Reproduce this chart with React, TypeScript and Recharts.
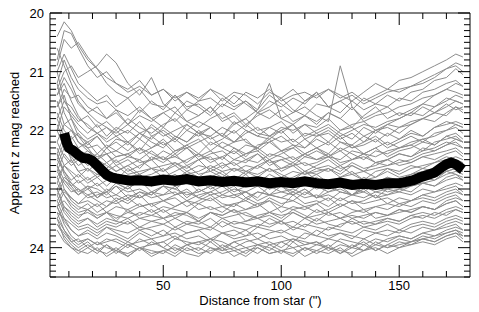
import React from 'react';
import { LineChart, Line, XAxis, YAxis, ReferenceArea } from 'recharts';

// Distances (arcsec) at which each gray run is sampled
const DIST = [5, 8, 11, 14, 18, 22, 26, 30, 35, 40, 45, 50, 55, 60, 65, 70, 75, 80, 85, 90, 95, 100, 105, 110, 115, 120, 125, 130, 135, 140, 145, 150, 155, 160, 165, 170, 174, 177];

// Individual runs (apparent z mag reached)
const RUN_01 = [20.4, 20.15, 20.3, 20.55, 20.8, 20.95, 21.1, 21.2, 21.3, 21.15, 21.4, 21.3, 21.45, 21.35, 21.5, 21.3, 21.4, 21.55, 21.35, 21.45, 21.3, 21.5, 21.4, 21.35, 21.45, 21.3, 21.4, 21.5, 21.35, 21.2, 21.3, 21.15, 21.1, 21.0, 20.9, 20.8, 20.7, 20.75];
const RUN_02 = [20.9, 20.45, 20.6, 20.5, 20.75, 20.95, 21.2, 21.35, 21.45, 21.3, 21.55, 21.6, 21.4, 21.65, 21.5, 21.45, 21.6, 21.4, 21.55, 21.7, 21.5, 21.6, 21.45, 21.55, 21.35, 21.6, 21.5, 21.4, 21.55, 21.45, 21.35, 21.3, 21.25, 21.15, 21.05, 20.95, 20.9, 21.0];
const RUN_03 = [21.3, 21.0, 20.9, 21.1, 21.0, 20.9, 20.7, 20.85, 21.2, 21.4, 21.1, 21.55, 21.7, 21.5, 21.6, 21.75, 21.55, 21.65, 21.5, 21.7, 21.6, 21.45, 21.65, 21.75, 21.55, 21.6, 21.7, 21.5, 21.65, 21.55, 21.6, 21.45, 21.5, 21.35, 21.3, 21.2, 21.15, 21.25];
const RUN_04 = [21.2, 20.8, 21.1, 21.3, 21.45, 21.55, 21.5, 21.65, 21.75, 21.6, 21.8, 21.7, 21.85, 21.65, 21.75, 21.6, 21.8, 21.7, 21.9, 21.75, 21.65, 21.8, 21.7, 21.6, 21.75, 21.85, 20.9, 21.6, 21.8, 21.7, 21.6, 21.75, 21.65, 21.55, 21.6, 21.45, 21.5, 21.55];
const RUN_05 = [21.6, 21.3, 21.45, 21.4, 21.6, 21.7, 21.8, 21.65, 21.9, 21.75, 21.85, 21.7, 21.6, 21.85, 21.95, 21.8, 21.7, 21.9, 21.8, 21.65, 21.2, 21.8, 21.9, 21.75, 21.85, 21.7, 21.8, 21.95, 21.75, 21.6, 21.8, 21.7, 21.75, 21.6, 21.7, 21.55, 21.65, 21.6];
const RUN_06 = [21.0, 21.5, 21.7, 21.85, 21.75, 21.95, 21.85, 22.0, 21.8, 21.95, 22.05, 21.9, 21.8, 22.0, 21.85, 21.95, 22.1, 21.9, 21.8, 22.0, 21.95, 21.85, 22.05, 21.9, 21.95, 21.8, 22.0, 21.9, 21.85, 22.0, 21.9, 21.8, 21.7, 21.75, 21.6, 21.5, 21.4, 21.45];
const RUN_07 = [21.8, 21.5, 21.6, 21.8, 21.9, 22.05, 21.95, 22.1, 22.0, 22.15, 21.9, 22.05, 22.2, 22.0, 22.1, 21.95, 22.1, 22.2, 22.05, 21.95, 22.1, 22.0, 21.9, 22.15, 22.05, 22.2, 22.0, 21.95, 22.1, 22.0, 21.95, 22.05, 21.9, 21.8, 21.85, 21.7, 21.6, 21.65];
const RUN_08 = [22.2, 21.9, 21.8, 22.0, 22.15, 22.05, 22.2, 22.1, 22.25, 22.05, 22.2, 22.3, 22.1, 22.2, 22.05, 22.25, 22.15, 22.0, 22.2, 22.3, 22.1, 22.2, 22.15, 22.3, 22.1, 22.05, 22.2, 22.25, 22.1, 22.2, 22.05, 22.15, 22.0, 22.1, 21.95, 21.9, 21.85, 21.9];
const RUN_09 = [21.5, 21.9, 22.0, 22.1, 22.2, 22.1, 22.3, 22.2, 22.35, 22.15, 22.3, 22.2, 22.4, 22.25, 22.15, 22.35, 22.2, 22.3, 22.45, 22.25, 22.2, 22.35, 22.3, 22.15, 22.3, 22.4, 22.2, 22.3, 22.25, 22.15, 22.3, 22.2, 22.1, 22.2, 22.05, 22.0, 21.95, 22.05];
const RUN_10 = [22.4, 22.1, 22.0, 22.2, 22.3, 22.25, 22.4, 22.35, 22.45, 22.3, 22.4, 22.5, 22.35, 22.3, 22.45, 22.35, 22.5, 22.3, 22.4, 22.35, 22.5, 22.4, 22.3, 22.45, 22.35, 22.45, 22.3, 22.4, 22.5, 22.35, 22.4, 22.3, 22.25, 22.35, 22.2, 22.15, 22.1, 22.2];
const RUN_11 = [22.0, 22.3, 22.4, 22.35, 22.5, 22.4, 22.55, 22.45, 22.4, 22.55, 22.5, 22.45, 22.6, 22.5, 22.4, 22.55, 22.45, 22.6, 22.5, 22.4, 22.55, 22.5, 22.6, 22.45, 22.5, 22.4, 22.55, 22.5, 22.45, 22.55, 22.5, 22.4, 22.45, 22.3, 22.35, 22.25, 22.2, 22.3];
const RUN_12 = [22.6, 22.3, 22.45, 22.6, 22.5, 22.65, 22.55, 22.7, 22.6, 22.5, 22.65, 22.6, 22.55, 22.7, 22.6, 22.65, 22.55, 22.7, 22.6, 22.65, 22.5, 22.7, 22.6, 22.55, 22.65, 22.6, 22.7, 22.55, 22.65, 22.6, 22.5, 22.6, 22.55, 22.45, 22.5, 22.4, 22.35, 22.45];
const RUN_13 = [21.9, 22.2, 22.5, 22.7, 22.65, 22.75, 22.7, 22.6, 22.75, 22.7, 22.65, 22.8, 22.7, 22.6, 22.75, 22.7, 22.8, 22.65, 22.7, 22.75, 22.65, 22.8, 22.7, 22.75, 22.65, 22.7, 22.6, 22.75, 22.7, 22.8, 22.65, 22.7, 22.6, 22.65, 22.55, 22.5, 22.45, 22.5];
const RUN_14 = [22.8, 22.6, 22.5, 22.7, 22.85, 22.75, 22.8, 22.9, 22.8, 22.75, 22.9, 22.8, 22.85, 22.75, 22.9, 22.8, 22.7, 22.85, 22.8, 22.9, 22.75, 22.85, 22.8, 22.7, 22.85, 22.9, 22.8, 22.75, 22.85, 22.8, 22.7, 22.8, 22.75, 22.65, 22.7, 22.6, 22.55, 22.6];
const RUN_15 = [22.3, 22.6, 22.75, 22.9, 22.8, 22.95, 22.85, 22.9, 23.0, 22.85, 22.9, 22.8, 22.95, 22.9, 22.85, 23.0, 22.9, 22.85, 22.95, 22.9, 23.0, 22.85, 22.95, 22.9, 22.8, 22.95, 22.9, 22.85, 22.95, 22.9, 22.8, 22.9, 22.85, 22.75, 22.8, 22.7, 22.65, 22.7];
const RUN_16 = [23.0, 22.8, 22.9, 23.05, 22.95, 23.0, 23.1, 22.95, 23.05, 23.0, 23.1, 22.95, 23.0, 23.1, 23.05, 22.95, 23.1, 23.0, 23.05, 22.95, 23.1, 23.05, 23.0, 23.1, 22.95, 23.05, 23.0, 23.1, 23.0, 22.95, 23.05, 23.0, 22.95, 22.9, 22.95, 22.85, 22.8, 22.85];
const RUN_17 = [22.7, 22.9, 23.05, 23.0, 23.15, 23.1, 23.05, 23.2, 23.1, 23.15, 23.05, 23.2, 23.1, 23.05, 23.15, 23.2, 23.1, 23.15, 23.05, 23.2, 23.1, 23.15, 23.2, 23.05, 23.15, 23.1, 23.2, 23.1, 23.05, 23.15, 23.1, 23.05, 23.1, 23.0, 23.05, 22.95, 22.9, 22.95];
const RUN_18 = [23.2, 23.0, 23.15, 23.25, 23.2, 23.3, 23.2, 23.25, 23.15, 23.3, 23.25, 23.2, 23.3, 23.2, 23.25, 23.15, 23.3, 23.25, 23.2, 23.3, 23.15, 23.25, 23.2, 23.3, 23.25, 23.15, 23.3, 23.2, 23.25, 23.2, 23.15, 23.25, 23.2, 23.1, 23.15, 23.05, 23.0, 23.1];
const RUN_19 = [22.6, 23.0, 23.2, 23.3, 23.35, 23.25, 23.4, 23.3, 23.35, 23.25, 23.4, 23.3, 23.35, 23.4, 23.25, 23.35, 23.3, 23.4, 23.35, 23.25, 23.4, 23.3, 23.35, 23.3, 23.4, 23.35, 23.25, 23.35, 23.4, 23.3, 23.35, 23.25, 23.3, 23.2, 23.25, 23.15, 23.1, 23.2];
const RUN_20 = [23.3, 23.2, 23.35, 23.45, 23.4, 23.5, 23.4, 23.45, 23.5, 23.4, 23.45, 23.5, 23.4, 23.45, 23.55, 23.4, 23.5, 23.45, 23.4, 23.5, 23.45, 23.55, 23.4, 23.5, 23.45, 23.4, 23.5, 23.45, 23.5, 23.4, 23.45, 23.35, 23.4, 23.3, 23.35, 23.25, 23.2, 23.3];
const RUN_21 = [23.0, 23.3, 23.45, 23.55, 23.5, 23.6, 23.5, 23.55, 23.6, 23.5, 23.55, 23.6, 23.5, 23.6, 23.55, 23.65, 23.5, 23.6, 23.55, 23.5, 23.6, 23.55, 23.65, 23.5, 23.6, 23.55, 23.5, 23.6, 23.55, 23.6, 23.5, 23.55, 23.45, 23.5, 23.4, 23.45, 23.35, 23.4];
const RUN_22 = [23.4, 23.5, 23.6, 23.7, 23.65, 23.75, 23.65, 23.7, 23.75, 23.65, 23.7, 23.8, 23.65, 23.75, 23.7, 23.65, 23.75, 23.7, 23.8, 23.65, 23.7, 23.75, 23.65, 23.7, 23.8, 23.65, 23.7, 23.75, 23.65, 23.7, 23.6, 23.7, 23.6, 23.55, 23.6, 23.5, 23.45, 23.5];
const RUN_23 = [23.2, 23.5, 23.7, 23.8, 23.75, 23.85, 23.75, 23.8, 23.9, 23.75, 23.85, 23.8, 23.75, 23.85, 23.8, 23.9, 23.75, 23.85, 23.8, 23.75, 23.85, 23.8, 23.9, 23.75, 23.8, 23.85, 23.75, 23.8, 23.85, 23.75, 23.8, 23.7, 23.75, 23.65, 23.7, 23.6, 23.55, 23.6];
const RUN_24 = [23.5, 23.7, 23.85, 23.95, 23.85, 23.95, 23.9, 23.85, 23.95, 23.9, 23.85, 24.0, 23.85, 23.9, 23.95, 23.85, 23.9, 24.0, 23.9, 23.85, 23.95, 23.9, 23.85, 23.95, 23.9, 24.0, 23.85, 23.9, 23.95, 23.85, 23.9, 23.8, 23.85, 23.75, 23.8, 23.7, 23.65, 23.7];
const RUN_25 = [23.6, 23.8, 23.95, 24.05, 23.95, 24.05, 24.1, 24.0, 24.15, 24.0, 24.05, 24.1, 23.95, 24.05, 24.0, 24.1, 23.95, 24.05, 24.0, 24.1, 23.95, 24.05, 24.1, 24.0, 24.05, 23.95, 24.1, 24.0, 24.05, 23.95, 24.0, 23.9, 23.95, 23.85, 23.9, 23.8, 23.75, 23.85];
const RUN_26 = [23.4, 23.7, 23.9, 23.85, 24.0, 23.9, 24.0, 24.05, 23.9, 24.0, 23.95, 23.9, 24.05, 23.95, 23.9, 24.0, 24.05, 23.9, 24.0, 23.95, 24.05, 23.9, 24.0, 23.95, 23.9, 24.05, 23.95, 24.0, 23.9, 24.05, 23.95, 23.85, 23.9, 23.8, 23.85, 23.75, 23.7, 23.75];
const RUN_27 = [21.2, 21.7, 21.95, 22.2, 22.35, 22.45, 22.4, 22.55, 22.45, 22.5, 22.35, 22.5, 22.45, 22.55, 22.4, 22.5, 22.45, 22.35, 22.5, 22.55, 22.4, 22.45, 22.55, 22.4, 22.5, 22.45, 22.35, 22.5, 22.4, 22.45, 22.35, 22.3, 22.25, 22.15, 22.1, 22.0, 21.9, 21.95];
const RUN_28 = [22.4, 22.7, 22.9, 23.0, 23.1, 23.05, 23.15, 23.1, 23.2, 23.05, 23.15, 23.1, 23.05, 23.2, 23.1, 23.05, 23.15, 23.1, 23.2, 23.05, 23.1, 23.15, 23.05, 23.15, 23.1, 23.2, 23.05, 23.1, 23.15, 23.05, 23.1, 23.0, 23.05, 22.9, 22.85, 22.75, 22.7, 22.75];
const RUN_29 = [21.6, 21.4, 21.8, 22.1, 22.3, 22.5, 22.6, 22.7, 22.6, 22.75, 22.65, 22.7, 22.6, 22.75, 22.7, 22.6, 22.7, 22.65, 22.75, 22.6, 22.7, 22.65, 22.6, 22.75, 22.7, 22.65, 22.75, 22.6, 22.7, 22.65, 22.6, 22.55, 22.5, 22.4, 22.35, 22.25, 22.15, 22.2];
const RUN_30 = [22.9, 23.1, 23.3, 23.4, 23.35, 23.45, 23.4, 23.5, 23.4, 23.45, 23.35, 23.5, 23.45, 23.4, 23.5, 23.4, 23.45, 23.35, 23.45, 23.5, 23.4, 23.45, 23.4, 23.5, 23.35, 23.45, 23.4, 23.5, 23.45, 23.4, 23.45, 23.35, 23.4, 23.3, 23.35, 23.2, 23.15, 23.2];
const RUN_31 = [20.6, 20.9, 21.2, 21.5, 21.7, 21.85, 21.95, 22.05, 21.9, 22.05, 21.95, 22.1, 22.0, 21.9, 22.05, 22.1, 21.95, 22.05, 21.9, 22.05, 22.1, 21.95, 22.0, 21.9, 22.05, 21.95, 22.1, 22.0, 21.9, 21.95, 21.85, 21.8, 21.7, 21.55, 21.4, 21.3, 21.2, 21.25];
const RUN_32 = [23.1, 23.4, 23.55, 23.65, 23.6, 23.7, 23.6, 23.65, 23.55, 23.7, 23.65, 23.6, 23.7, 23.6, 23.65, 23.7, 23.55, 23.65, 23.7, 23.6, 23.65, 23.55, 23.7, 23.6, 23.65, 23.7, 23.6, 23.55, 23.65, 23.6, 23.55, 23.6, 23.5, 23.45, 23.5, 23.4, 23.35, 23.4];
const RUN_33 = [21.0, 20.7, 20.95, 21.2, 21.35, 21.5, 21.4, 21.6, 21.45, 21.7, 21.5, 21.65, 21.4, 21.6, 21.55, 21.7, 21.45, 21.6, 21.5, 21.65, 21.4, 21.55, 21.7, 21.5, 21.35, 21.6, 21.5, 21.65, 21.45, 21.55, 21.4, 21.5, 21.35, 21.3, 21.15, 21.1, 20.95, 21.05];
const RUN_34 = [21.4, 21.1, 21.3, 21.55, 21.7, 21.6, 21.8, 21.7, 21.9, 21.65, 21.8, 21.95, 21.7, 21.85, 21.75, 21.6, 21.85, 21.75, 21.95, 21.7, 21.8, 21.65, 21.85, 21.75, 21.9, 21.7, 21.8, 21.6, 21.85, 21.75, 21.7, 21.6, 21.55, 21.45, 21.4, 21.3, 21.35, 21.4];
const RUN_35 = [22.0, 21.6, 21.75, 21.9, 22.05, 21.9, 22.1, 21.95, 22.05, 21.85, 22.1, 22.0, 22.15, 21.9, 22.05, 21.95, 22.1, 21.85, 22.0, 22.1, 21.95, 22.05, 21.9, 22.1, 22.0, 21.9, 22.05, 22.15, 21.95, 22.05, 21.9, 21.95, 21.85, 21.8, 21.7, 21.75, 21.6, 21.7];
const RUN_36 = [21.7, 22.0, 22.15, 22.05, 22.25, 22.1, 22.3, 22.15, 22.2, 22.35, 22.1, 22.25, 22.15, 22.3, 22.2, 22.1, 22.3, 22.2, 22.15, 22.35, 22.2, 22.1, 22.25, 22.3, 22.15, 22.25, 22.1, 22.3, 22.2, 22.1, 22.25, 22.15, 22.05, 22.1, 21.95, 21.85, 21.9, 21.95];
const RUN_37 = [22.5, 22.2, 22.1, 22.3, 22.2, 22.4, 22.25, 22.35, 22.2, 22.4, 22.3, 22.15, 22.35, 22.25, 22.4, 22.2, 22.3, 22.4, 22.25, 22.3, 22.15, 22.35, 22.25, 22.4, 22.3, 22.2, 22.35, 22.25, 22.4, 22.3, 22.2, 22.3, 22.2, 22.15, 22.25, 22.1, 22.05, 22.15];
const RUN_38 = [21.8, 22.1, 22.3, 22.45, 22.35, 22.5, 22.3, 22.45, 22.4, 22.3, 22.5, 22.35, 22.45, 22.3, 22.5, 22.4, 22.35, 22.5, 22.4, 22.3, 22.45, 22.35, 22.5, 22.4, 22.3, 22.45, 22.5, 22.35, 22.4, 22.3, 22.45, 22.35, 22.3, 22.2, 22.25, 22.1, 22.15, 22.2];
const RUN_39 = [22.7, 22.4, 22.55, 22.45, 22.6, 22.5, 22.4, 22.6, 22.5, 22.65, 22.45, 22.55, 22.4, 22.6, 22.5, 22.45, 22.65, 22.5, 22.55, 22.4, 22.6, 22.5, 22.45, 22.6, 22.55, 22.45, 22.6, 22.5, 22.4, 22.55, 22.5, 22.4, 22.45, 22.35, 22.3, 22.2, 22.25, 22.3];
const RUN_40 = [22.2, 22.45, 22.6, 22.5, 22.7, 22.55, 22.65, 22.5, 22.7, 22.6, 22.5, 22.7, 22.55, 22.65, 22.5, 22.7, 22.6, 22.55, 22.7, 22.6, 22.5, 22.65, 22.55, 22.7, 22.6, 22.5, 22.65, 22.6, 22.7, 22.55, 22.6, 22.5, 22.55, 22.45, 22.4, 22.35, 22.3, 22.4];
const RUN_41 = [22.9, 22.6, 22.7, 22.8, 22.65, 22.8, 22.7, 22.85, 22.65, 22.8, 22.75, 22.65, 22.85, 22.7, 22.8, 22.65, 22.75, 22.85, 22.7, 22.8, 22.65, 22.75, 22.85, 22.7, 22.75, 22.65, 22.8, 22.7, 22.85, 22.7, 22.65, 22.75, 22.65, 22.6, 22.55, 22.45, 22.5, 22.55];
const RUN_42 = [22.5, 22.7, 22.85, 22.75, 22.9, 22.8, 22.95, 22.8, 22.9, 22.75, 22.95, 22.85, 22.75, 22.9, 22.85, 22.95, 22.8, 22.9, 22.75, 22.95, 22.85, 22.8, 22.95, 22.85, 22.75, 22.9, 22.85, 22.95, 22.8, 22.9, 22.8, 22.85, 22.75, 22.7, 22.65, 22.6, 22.55, 22.6];
const RUN_43 = [23.1, 22.85, 22.95, 22.85, 23.0, 22.9, 23.05, 22.9, 23.0, 22.85, 23.05, 22.95, 23.0, 22.85, 23.05, 22.95, 22.9, 23.05, 22.95, 22.85, 23.0, 22.95, 23.05, 22.9, 23.0, 22.95, 22.85, 23.0, 23.05, 22.9, 23.0, 22.9, 22.85, 22.8, 22.85, 22.7, 22.75, 22.8];
const RUN_44 = [22.6, 22.85, 23.0, 23.1, 22.95, 23.15, 23.0, 23.1, 22.95, 23.15, 23.05, 23.1, 22.95, 23.15, 23.0, 23.1, 23.05, 22.95, 23.15, 23.05, 23.1, 22.95, 23.1, 23.0, 23.15, 23.05, 22.95, 23.1, 23.0, 23.15, 23.0, 23.05, 22.95, 22.9, 22.95, 22.8, 22.75, 22.85];
const RUN_45 = [23.3, 23.05, 23.15, 23.25, 23.1, 23.2, 23.3, 23.15, 23.25, 23.1, 23.3, 23.2, 23.15, 23.3, 23.2, 23.1, 23.25, 23.3, 23.15, 23.25, 23.2, 23.3, 23.1, 23.25, 23.2, 23.3, 23.15, 23.25, 23.2, 23.1, 23.25, 23.15, 23.2, 23.1, 23.05, 23.0, 22.95, 23.05];
const RUN_46 = [22.8, 23.1, 23.25, 23.35, 23.25, 23.4, 23.3, 23.2, 23.4, 23.3, 23.25, 23.4, 23.3, 23.2, 23.35, 23.3, 23.4, 23.25, 23.35, 23.3, 23.2, 23.4, 23.3, 23.35, 23.25, 23.4, 23.3, 23.2, 23.35, 23.3, 23.25, 23.3, 23.2, 23.15, 23.2, 23.1, 23.05, 23.1];
const RUN_47 = [23.5, 23.3, 23.4, 23.5, 23.35, 23.5, 23.4, 23.55, 23.35, 23.5, 23.45, 23.35, 23.5, 23.4, 23.55, 23.4, 23.45, 23.35, 23.55, 23.45, 23.4, 23.5, 23.35, 23.45, 23.55, 23.4, 23.5, 23.4, 23.35, 23.5, 23.45, 23.4, 23.35, 23.3, 23.35, 23.25, 23.2, 23.3];
const RUN_48 = [23.0, 23.35, 23.5, 23.6, 23.5, 23.65, 23.55, 23.6, 23.5, 23.65, 23.55, 23.5, 23.65, 23.55, 23.6, 23.5, 23.65, 23.55, 23.6, 23.65, 23.5, 23.6, 23.55, 23.65, 23.5, 23.6, 23.65, 23.5, 23.6, 23.55, 23.5, 23.55, 23.45, 23.4, 23.45, 23.35, 23.3, 23.35];
const RUN_49 = [23.3, 23.55, 23.7, 23.8, 23.7, 23.8, 23.65, 23.75, 23.85, 23.7, 23.8, 23.7, 23.85, 23.75, 23.7, 23.85, 23.75, 23.8, 23.7, 23.85, 23.75, 23.7, 23.8, 23.85, 23.7, 23.8, 23.75, 23.85, 23.7, 23.75, 23.7, 23.75, 23.65, 23.6, 23.65, 23.55, 23.5, 23.55];
const RUN_50 = [23.6, 23.75, 23.9, 24.0, 23.9, 24.05, 23.95, 24.1, 23.95, 24.05, 23.9, 24.0, 24.1, 23.95, 24.05, 23.9, 24.05, 24.0, 24.1, 23.95, 24.0, 24.1, 23.9, 24.05, 23.95, 24.0, 24.1, 23.95, 24.05, 23.9, 24.0, 23.95, 23.9, 23.85, 23.8, 23.75, 23.7, 23.8];
const RUN_51 = [23.3, 23.6, 23.8, 23.9, 23.85, 23.95, 23.85, 23.9, 24.0, 23.85, 23.95, 23.9, 23.8, 23.95, 23.9, 23.85, 24.0, 23.9, 23.85, 23.95, 23.9, 24.0, 23.85, 23.9, 23.95, 23.85, 23.9, 24.0, 23.85, 23.95, 23.85, 23.8, 23.85, 23.75, 23.7, 23.65, 23.6, 23.7];
const RUN_52 = [23.7, 23.9, 24.0, 24.1, 24.0, 24.1, 23.95, 24.05, 24.15, 24.0, 24.1, 24.05, 24.15, 24.0, 24.1, 24.05, 24.0, 24.15, 24.05, 24.0, 24.1, 24.05, 24.15, 24.0, 24.1, 24.0, 24.05, 24.1, 23.95, 24.05, 23.95, 24.0, 23.9, 23.85, 23.9, 23.8, 23.75, 23.8];
const RUN_53 = [21.4, 21.2, 21.5, 21.75, 21.95, 22.05, 22.15, 22.0, 22.2, 22.05, 22.15, 21.95, 22.1, 22.2, 22.0, 22.15, 22.05, 22.2, 22.0, 22.1, 22.15, 22.0, 22.2, 22.05, 22.1, 22.0, 22.15, 22.05, 22.2, 22.0, 22.1, 21.95, 21.9, 21.8, 21.7, 21.6, 21.5, 21.55];
const RUN_54 = [22.4, 22.75, 22.95, 23.1, 23.0, 23.15, 23.05, 22.95, 23.15, 23.05, 23.1, 22.95, 23.1, 23.0, 23.15, 23.05, 22.95, 23.1, 23.05, 23.15, 22.95, 23.05, 23.1, 23.0, 23.15, 22.95, 23.05, 23.1, 22.95, 23.05, 23.0, 22.95, 22.9, 22.85, 22.8, 22.7, 22.65, 22.7];
const RUN_55 = [20.8, 20.3, 20.35, 20.6, 20.9, 21.1, 21.0, 21.2, 21.35, 21.25, 21.4, 21.3, 21.5, 21.35, 21.45, 21.3, 21.5, 21.35, 21.4, 21.55, 21.35, 21.45, 21.3, 21.5, 21.4, 21.3, 21.45, 21.35, 21.5, 21.4, 21.3, 21.35, 21.25, 21.2, 21.1, 20.95, 20.85, 20.9];
const RUN_56 = [23.5, 23.85, 24.0, 24.05, 24.1, 24.0, 24.15, 24.05, 24.1, 24.0, 24.15, 24.05, 24.0, 24.1, 24.15, 24.0, 24.1, 24.05, 24.15, 24.0, 24.1, 24.05, 24.0, 24.15, 24.05, 24.1, 24.0, 24.15, 24.05, 24.0, 24.1, 24.0, 23.95, 23.9, 23.95, 23.85, 23.8, 23.9];

const RUNS = [
  RUN_01, RUN_02, RUN_03, RUN_04, RUN_05, RUN_06, RUN_07, RUN_08,
  RUN_09, RUN_10, RUN_11, RUN_12, RUN_13, RUN_14, RUN_15, RUN_16,
  RUN_17, RUN_18, RUN_19, RUN_20, RUN_21, RUN_22, RUN_23, RUN_24,
  RUN_25, RUN_26, RUN_27, RUN_28, RUN_29, RUN_30, RUN_31, RUN_32,
  RUN_33, RUN_34, RUN_35, RUN_36, RUN_37, RUN_38, RUN_39, RUN_40,
  RUN_41, RUN_42, RUN_43, RUN_44, RUN_45, RUN_46, RUN_47, RUN_48,
  RUN_49, RUN_50, RUN_51, RUN_52, RUN_53, RUN_54, RUN_55, RUN_56,
];

// Median curve (thick black)
const MEDIAN_DIST = [8, 9, 10, 12, 14, 16, 18, 20, 22, 24, 26, 28, 30, 33, 36, 40, 45, 50, 55, 60, 65, 70, 75, 80, 85, 90, 95, 100, 105, 110, 115, 120, 125, 130, 135, 140, 145, 150, 153, 156, 159, 162, 165, 168, 170, 172, 174, 176, 177];
const MEDIAN_MAG = [22.05, 22.2, 22.3, 22.35, 22.42, 22.47, 22.48, 22.52, 22.6, 22.68, 22.76, 22.8, 22.82, 22.84, 22.86, 22.85, 22.87, 22.84, 22.86, 22.83, 22.87, 22.85, 22.88, 22.86, 22.89, 22.87, 22.9, 22.88, 22.9, 22.87, 22.9, 22.92, 22.89, 22.93, 22.91, 22.93, 22.9, 22.9, 22.88, 22.85, 22.8, 22.76, 22.72, 22.63, 22.58, 22.55, 22.58, 22.64, 22.67];

const X_TICKS = [10, 20, 30, 40, 50, 60, 70, 80, 90, 100, 110, 120, 130, 140, 150, 160, 170];
const X_LABELS = [50, 100, 150];
const Y_LABELS = [20, 21, 22, 23, 24];
const Y_TICKS = Array.from({ length: 46 }, (_, i) => (200 + i) / 10);

const W = 479;
const H = 312;
const PLOT_LEFT = 50;
const PLOT_RIGHT = 470;
const PLOT_TOP = 13;
const PLOT_BOTTOM = 277;
const FONT = '"Liberation Sans", Arial, Helvetica, sans-serif';

const XTick = (props: any) => {
  const { x, y, payload } = props;
  const v = payload.value;
  const major = X_LABELS.includes(v);
  const len = major ? 12 : 6;
  return (
    <g>
      <line x1={x} x2={x} y1={y} y2={y - len} stroke="#000" />
      <line x1={x} x2={x} y1={PLOT_TOP} y2={PLOT_TOP + len} stroke="#000" />
      {major && (
        <text x={x} y={y + 12.5} textAnchor="middle" fontSize={13} fontFamily={FONT} fill="#000">
          {v}
        </text>
      )}
    </g>
  );
};

const YTick = (props: any) => {
  const { x, y, payload } = props;
  const v = payload.value;
  const major = Y_LABELS.some(l => Math.abs(l - v) < 1e-6);
  const len = major ? 12 : 6;
  return (
    <g>
      <line x1={x} x2={x + len} y1={y} y2={y} stroke="#000" />
      <line x1={PLOT_RIGHT} x2={PLOT_RIGHT - len} y1={y} y2={y} stroke="#000" />
      {major && (
        <text x={x - 6} y={y + 5} textAnchor="end" fontSize={13} fontFamily={FONT} fill="#000">
          {Math.round(v)}
        </text>
      )}
    </g>
  );
};

export default function App() {
  return (
    <div style={{ position: 'absolute', left: 0, top: 0, width: W, height: H, background: '#fff' }}>
      <LineChart
        width={W}
        height={H}
        margin={{ top: PLOT_TOP, right: W - PLOT_RIGHT, bottom: 0, left: 0 }}
      >
        <XAxis
          dataKey="dist"
          type="number"
          domain={[2, 180]}
          ticks={X_TICKS}
          interval={0}
          allowDataOverflow
          height={H - PLOT_BOTTOM}
          tickSize={0}
          tickMargin={0}
          tickLine={false}
          axisLine={false}
          tick={<XTick />}
        />
        <YAxis
          dataKey="mag"
          type="number"
          domain={[20, 24.5]}
          reversed
          ticks={Y_TICKS}
          interval={0}
          allowDataOverflow
          width={PLOT_LEFT}
          tickSize={0}
          tickMargin={0}
          tickLine={false}
          axisLine={false}
          tick={<YTick />}
        />
        {RUNS.map((run, k) => (
          <Line
            key={`run-${k}`}
            data={run.slice(0, DIST.length).map((m, i) => ({ dist: DIST[i], mag: m }))}
            dataKey="mag"
            type="linear"
            stroke="#8c8c8c"
            strokeWidth={1}
            dot={false}
            activeDot={false}
            isAnimationActive={false}
          />
        ))}
        <Line
          data={MEDIAN_MAG.map((m, i) => ({ dist: MEDIAN_DIST[i], mag: m }))}
          dataKey="mag"
          type="linear"
          stroke="#000"
          strokeWidth={10}
          dot={false}
          activeDot={false}
          isAnimationActive={false}
        />
        <ReferenceArea x1={2} x2={180} y1={20} y2={24.5} fill="none" stroke="#000" strokeWidth={1} ifOverflow="visible" />
      </LineChart>
      <svg width={W} height={H} style={{ position: 'absolute', left: 0, top: 0, pointerEvents: 'none' }}>
        <text x={260.5} y={304.5} textAnchor="middle" fontSize={13} fontFamily={FONT} fill="#000">
          Distance from star (")
        </text>
        <text
          x={19}
          y={143}
          textAnchor="middle"
          fontSize={13}
          fontFamily={FONT}
          fill="#000"
          transform="rotate(-90, 19, 143)"
        >
          Apparent z mag reached
        </text>
      </svg>
    </div>
  );
}
